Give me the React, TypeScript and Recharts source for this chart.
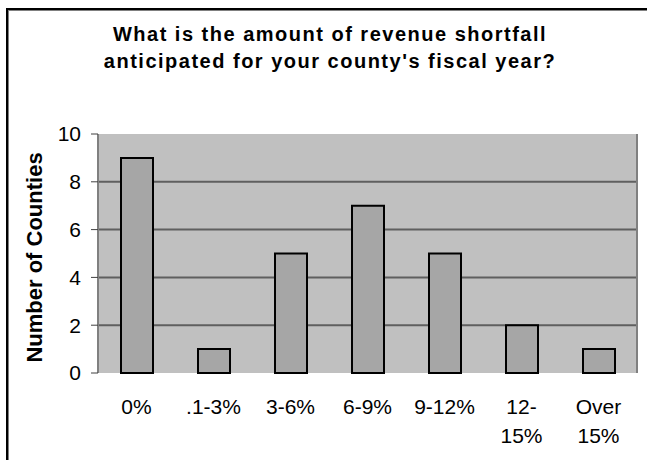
import {
  Bar,
  BarChart,
  CartesianGrid,
  Label,
  XAxis,
  YAxis,
} from "recharts";

const categories = ["0%", ".1-3%", "3-6%", "6-9%", "9-12%", "12-\n15%", "Over\n15%"];
const countyCounts = [9, 1, 5, 7, 5, 2, 1];
const yTicks = [0, 2, 4, 6, 8, 10];
const gridValues = [2, 4, 6, 8];
const titleLines = [
  "What is the amount of revenue shortfall",
  "anticipated for your county's fiscal year?",
];

const FONT = "'Liberation Sans', Arial, sans-serif";

const data = categories.map((name, index) => ({
  name,
  counties: countyCounts[index],
}));
const edgeTicks = [...categories.map((_, index) => index), categories.length];

function CategoryTick(props: any) {
  const { x, y, payload } = props;
  const lines = String(payload.value).split("\n");
  return (
    <text
      fill="#000"
      fontFamily={FONT}
      fontSize={21}
      textAnchor="middle"
      x={x}
      y={y + 41}
    >
      {lines.map((line, index) => (
        <tspan dy={index === 0 ? 0 : 29} key={line} x={x}>
          {line}
        </tspan>
      ))}
    </text>
  );
}

function AxisTitle(props: any) {
  const vb = props.viewBox;
  const cx = 34;
  const cy = vb.y + vb.height / 2 + 4;
  return (
    <text
      dominantBaseline="central"
      fill="#000"
      fontFamily={FONT}
      fontSize={22}
      fontWeight="bold"
      textAnchor="middle"
      transform={`rotate(-90 ${cx} ${cy})`}
      x={cx}
      y={cy}
    >
      Number of Counties
    </text>
  );
}

export default function App() {
  return (
    <div
      style={{
        height: 460,
        overflow: "hidden",
        position: "relative",
        width: 647,
        background: "#fff",
      }}
    >
      <style>{"body{margin:0}"}</style>
      <div
        style={{
          borderLeft: "2px solid #000",
          borderTop: "2px solid #000",
          boxShadow: "inset 1px 1px 0 #808080",
          height: 500,
          left: 6,
          position: "absolute",
          top: 8,
          width: 700,
        }}
      />
      <div
        style={{
          color: "#000",
          fontFamily: FONT,
          fontSize: 20,
          fontWeight: "bold",
          left: 30,
          letterSpacing: 1.5,
          lineHeight: "27px",
          position: "absolute",
          textAlign: "center",
          top: 21,
          width: 600,
        }}
      >
        {titleLines.map((line) => (
          <div key={line}>{line}</div>
        ))}
      </div>
      <div style={{ left: 0, position: "absolute", top: 0 }}>
        <BarChart
          data={data}
          height={460}
          margin={{ bottom: 0, left: 0, right: 0, top: 134 }}
          width={647}
        >
          <CartesianGrid
            fill="#C0C0C0"
            horizontalValues={gridValues}
            stroke="#5f5f5f"
            strokeWidth={2}
            vertical={false}
          />
          <XAxis
            allowDataOverflow
            axisLine={{ stroke: "#404040", strokeWidth: 2 }}
            domain={[0, categories.length]}
            height={0}
            tick={false}
            tickLine={{ stroke: "#808080" }}
            tickSize={7}
            ticks={edgeTicks}
            type="number"
            xAxisId="edges"
          />
          <XAxis
            axisLine={false}
            dataKey="name"
            height={87}
            interval={0}
            tick={<CategoryTick />}
            tickLine={false}
            tickMargin={0}
            tickSize={0}
          />
          <XAxis
            axisLine={{ stroke: "#808080", strokeWidth: 2 }}
            dataKey="name"
            height={0}
            orientation="top"
            tick={false}
            tickLine={false}
            xAxisId="top"
          />
          <YAxis
            axisLine={{ stroke: "#808080", strokeWidth: 2 }}
            domain={[0, 10]}
            tick={{ fill: "#000", fontFamily: FONT, fontSize: 21 }}
            tickLine={{ stroke: "#404040" }}
            tickMargin={10}
            tickSize={7}
            ticks={yTicks}
            width={98}
          >
            <Label content={<AxisTitle />} position="insideLeft" />
          </YAxis>
          <YAxis
            axisLine={{ stroke: "#808080", strokeWidth: 2 }}
            domain={[0, 10]}
            orientation="right"
            tick={false}
            tickLine={false}
            width={10}
            yAxisId="right"
          />
          <Bar
            barSize={32}
            dataKey="counties"
            fill="#A6A6A6"
            isAnimationActive={false}
            stroke="#000"
            strokeWidth={2}
          />
        </BarChart>
      </div>
    </div>
  );
}
